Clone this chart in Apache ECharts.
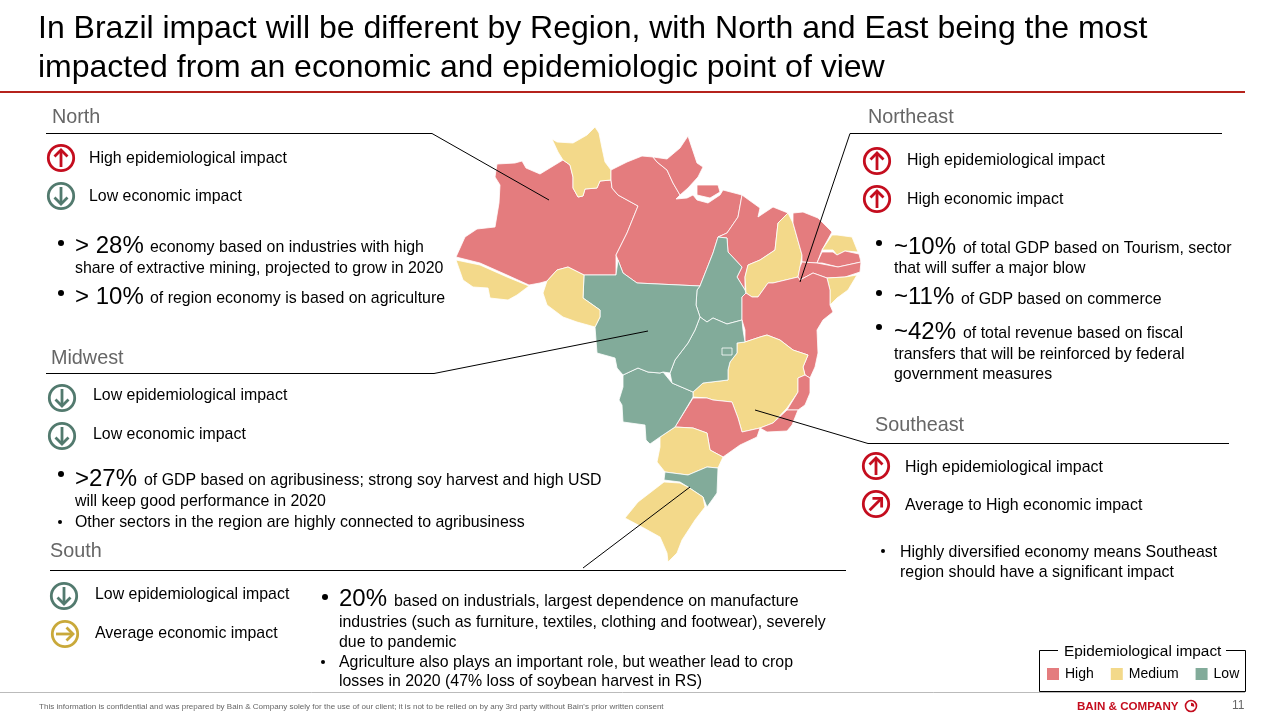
<!DOCTYPE html>
<html>
<head>
<meta charset="utf-8">
<title>Brazil regional impact</title>
<script src="https://cdn.jsdelivr.net/npm/echarts@6/dist/echarts.min.js"></script>
<style>
html,body{margin:0;padding:0;background:#fff}
#chart{width:1280px;height:720px}
</style>
</head>
<body>
<div id="chart"></div>
<script>
// impact level of each state
var impactLevels = ['High', 'Medium', 'Low'];
var stateNames = ['Amazonas','Roraima','Para','Marajo','Amapa','Maranhao','Tocantins','Piaui','Ceara','Rio Grande do Norte',
    'Paraiba','Pernambuco','Alagoas e Sergipe','Bahia','Minas Gerais','Espirito Santo','Rio de Janeiro','Sao Paulo','Parana',
    'Santa Catarina','Rio Grande do Sul','Mato Grosso do Sul','Goias','Distrito Federal','Mato Grosso','Rondonia','Acre'];
var stateImpact = ['High','Medium','High','High','High','High','Low','Medium','High','Medium',
    'High','High','Medium','High','Medium','High','High','High','Medium',
    'Low','Medium','Low','Low','Low','Low','Medium','Medium'];
var impactColors = ['#e47c7e', '#f3d98a', '#82ab9a'];

// state outlines for registerMap, traced on the page
var stateOutlines = {
    'Amazonas': [497,164,515,163,522,161,526,168,540,174,563,160,570,165,573,177,573,188,578,197,583,196,585,189,597,188,600,181,611,180,612,188,618,195,638,206,627,233,616,255,616,275,584,275,568,267,557,270,547,281,540,283,529,285,507,275,480,263,456,257,465,237,477,229,495,227,499,203,500,185,495,177],
    'Roraima': [552,139,557,142,573,143,587,135,595,127,599,133,602,148,605,162,611,170,611,180,600,181,597,188,585,189,583,196,578,197,573,188,573,177,570,165,563,160,558,152],
    'Para': [611,170,627,162,642,156,653,157,657,162,667,170,673,183,680,195,676,199,687,198,693,195,697,200,708,203,720,195,723,190,742,195,738,217,727,233,718,237,713,253,700,286,637,283,623,273,618,260,616,255,627,233,638,206,618,195,612,188,611,180],
    'Marajo': [697,185,718,185,720,192,710,198,697,195],
    'Amapa': [653,157,667,159,680,148,688,136,697,163,703,167,698,177,688,188,680,195,673,183,667,170,657,162],
    'Maranhao': [742,195,760,208,758,217,773,207,788,213,778,223,775,250,760,260,748,265,745,277,745,290,737,277,742,267,728,252,727,238,718,237,727,233,738,217],
    'Tocantins': [718,237,727,238,728,252,742,267,737,277,745,290,746,293,742,297,742,320,727,324,713,318,707,322,700,317,696,305,697,290,700,286,713,253],
    'Piaui': [788,213,793,223,802,255,800,267,798,277,773,283,768,283,758,297,752,297,746,293,745,277,748,265,760,260,775,250,778,223],
    'Ceara': [793,213,803,212,818,218,832,232,822,250,817,263,802,262,802,255,793,223],
    'Rio Grande do Norte': [832,235,837,235,852,237,858,252,845,251,837,255,833,250,822,250],
    'Paraiba': [822,252,833,252,837,255,845,251,859,254,861,262,838,267,822,263,817,263],
    'Pernambuco': [817,263,838,267,861,262,860,272,845,277,827,278,813,273,800,280,798,277,800,267,802,262],
    'Alagoas e Sergipe': [827,278,845,277,857,275,848,290,837,298,830,305,830,290],
    'Bahia': [800,280,813,273,827,278,830,290,830,305,833,312,823,320,817,330,818,353,815,367,810,378,805,375,803,367,808,355,793,350,780,340,767,335,760,337,745,342,745,330,742,320,742,297,746,293,752,297,758,297,768,283,773,283,798,277],
    'Minas Gerais': [745,342,760,337,767,335,780,340,793,350,808,355,803,367,805,375,798,378,798,392,787,408,773,423,760,428,742,432,738,418,732,402,713,400,707,398,693,397,693,392,703,383,728,380,728,370,730,362,737,353,737,343],
    'Espirito Santo': [805,375,810,378,810,393,805,405,798,410,787,410,798,392,798,378],
    'Rio de Janeiro': [787,410,798,410,792,425,787,431,767,432,760,428,773,423],
    'Sao Paulo': [675,427,693,398,707,398,713,400,732,402,738,418,742,432,760,428,757,437,740,445,723,457,710,450,707,433,693,428],
    'Parana': [660,437,675,427,693,428,707,433,710,450,723,457,718,468,707,467,688,475,665,472,657,462,660,447],
    'Santa Catarina': [665,472,688,475,707,467,718,468,717,493,707,507,703,497,688,487,680,482,664,480],
    'Rio Grande do Sul': [664,482,680,483,688,487,703,497,705,507,695,520,682,540,677,553,668,562,667,553,660,537,642,527,625,518,638,502],
    'Mato Grosso do Sul': [623,375,638,368,648,372,660,373,663,372,672,383,693,392,693,397,675,427,660,437,650,444,646,440,645,425,623,422,622,405,619,400,623,387],
    'Goias': [700,317,707,322,713,318,727,324,742,320,743,330,745,342,737,343,737,353,730,362,728,370,728,380,703,383,693,392,672,383,670,373,675,360,688,343,695,330],
    'Distrito Federal': [722,348,732,348,732,355,722,355],
    'Mato Grosso': [584,275,616,275,618,260,623,273,637,283,700,286,697,290,696,305,700,317,695,330,688,343,675,360,670,373,663,372,660,373,648,372,638,368,623,375,617,368,615,358,597,353,595,327,600,317,600,310,583,298],
    'Rondonia': [568,267,584,275,583,298,600,310,600,317,595,327,577,322,563,317,547,305,543,293,547,281,557,270],
    'Acre': [456,260,480,265,507,277,529,286,517,295,508,300,490,298,488,288,473,287,463,280]
};

var FONT = '"Liberation Sans", Arial, sans-serif';
var BLACK = '#000', GREY = '#666';
var RED = '#c40d1e', GREEN = '#527a6e', GOLD = '#c9a93a';

// slide text: x, y (middle), string, font size
var textRows = [
    [38,27,'In Brazil impact will be different by Region, with North and East being the most',32],
    [38,66,'impacted from an economic and epidemiologic point of view',32],
    // North
    [89,157,'High epidemiological impact',15.9],
    [89,195,'Low economic impact',15.9],
    [75,244,'> 28%',24],[150,246,'economy based on industries with high',15.9],
    [75,267,'share of extractive mining, projected to grow in 2020',15.9],
    [75,295,'> 10%',24],[150,297,'of region economy is based on agriculture',15.9],
    // Midwest
    [93,394,'Low epidemiological impact',15.9],
    [93,433,'Low economic impact',15.9],
    [75,477,'>27%',24],[144,479,'of GDP based on agribusiness; strong soy harvest and high USD',15.9],
    [75,500,'will keep good performance in 2020',15.9],
    [75,521,'Other sectors in the region are highly connected to agribusiness',15.9],
    // South
    [95,593,'Low epidemiological impact',15.9],
    [95,632,'Average economic impact',15.9],
    [339,597,'20%',24],[394,600,'based on industrials, largest dependence on manufacture',15.9],
    [339,621,'industries (such as furniture, textiles, clothing and footwear), severely',15.9],
    [339,641,'due to pandemic',15.9],
    [339,661,'Agriculture also plays an important role, but weather lead to crop',15.9],
    [339,680,'losses in 2020 (47% loss of soybean harvest in RS)',15.9],
    // Northeast
    [907,159,'High epidemiological impact',15.9],
    [907,198,'High economic impact',15.9],
    [894,245,'~10%',24],[963,247,'of total GDP based on Tourism, sector',15.9],
    [894,267,'that will suffer a major blow',15.9],
    [894,295,'~11%',24],[961,298,'of GDP based on commerce',15.9],
    [894,330,'~42%',24],[963,332,'of total revenue based on fiscal',15.9],
    [894,353,'transfers that will be reinforced by federal',15.9],
    [894,373,'government measures',15.9],
    // Southeast
    [905,466,'High epidemiological impact',15.9],
    [905,504,'Average to High economic impact',15.9],
    [900,551,'Highly diversified economy means Southeast',15.9],
    [900,571,'region should have a significant impact',15.9],
    // legend title
    [1064,650,'Epidemiological impact',15.4]
];
var headings = [[52,116,'North'],[51,357,'Midwest'],[50,550,'South'],[868,116,'Northeast'],[875,424,'Southeast']];
var bullets = [[61,243,3],[61,293,3],[61,474,3],[60,522,2],[325,597,3],[323,662,2],[879,243,3],[879,293,3],[879,327,3],[883,551,2]];
// x, y, colour, rotation of the up arrow
var icons = [
    [61,158,RED,0],[61,196,GREEN,Math.PI],
    [62,398,GREEN,Math.PI],[62,436,GREEN,Math.PI],
    [64,596,GREEN,Math.PI],[65,634,GOLD,-Math.PI/2],
    [877,161,RED,0],[877,199,RED,0],
    [876,466,RED,0],[876,504,RED,-Math.PI/4]
];
// header rules with leader lines into the map
var leaders = [
    [[46,133.5],[432,133.5],[549,200]],
    [[46,373.5],[434,373.5],[648,331]],
    [[50,570.5],[846,570.5]],
    [[583,568],[690,487]],
    [[1222,133.5],[850,133.5],[800,282]],
    [[1229,443.5],[868,443.5],[755,410]]
];

function textEl(x, y, str, size, color, weight) {
    // +2: middle sits a little high with this font
    return {
        type: 'text', x: x, y: y + 2, z: 10, silent: true,
        style: {
            text: str, fill: color || BLACK, align: 'left', verticalAlign: 'middle',
            font: (weight || 'normal') + ' ' + size + 'px ' + FONT
        }
    };
}
function lineEl(points, color, width) {
    return {
        type: 'polyline', z: 10, silent: true,
        shape: { points: points },
        style: { stroke: color, lineWidth: width, fill: null }
    };
}
function iconEl(x, y, color, rot) {
    return {
        type: 'group', x: x, y: y, rotation: rot, silent: true,
        children: [
            { type: 'circle', z: 10, shape: { r: 12.7 }, style: { stroke: color, lineWidth: 2.8, fill: '#fff' } },
            lineEl([[0, 9], [0, -8]], color, 2.8),
            lineEl([[-6.5, -1.5], [0, -8], [6.5, -1.5]], color, 2.8)
        ]
    };
}

var graphics = [];
textRows.forEach(function (r) { graphics.push(textEl(r[0], r[1], r[2], r[3])); });
headings.forEach(function (h) { graphics.push(textEl(h[0], h[1], h[2], 19.8, GREY)); });
bullets.forEach(function (b) {
    graphics.push({ type: 'circle', z: 10, silent: true, shape: { cx: b[0], cy: b[1], r: b[2] }, style: { fill: BLACK } });
});
icons.forEach(function (i) { graphics.push(iconEl(i[0], i[1], i[2], i[3])); });
leaders.forEach(function (l) { graphics.push(lineEl(l, '#000', 1)); });

// title rule, footer, legend frame
graphics.push(lineEl([[0, 92], [1245, 92]], '#b5231c', 2));
graphics.push(lineEl([[0, 692.5], [1245, 692.5]], '#bbb', 1));
graphics.push(lineEl([[1058, 650.5], [1039.5, 650.5], [1039.5, 691.5], [1245.5, 691.5], [1245.5, 650.5], [1226, 650.5]], '#000', 1));
graphics.push(textEl(39, 705, "This information is confidential and was prepared by Bain & Company solely for the use of our client; it is not to be relied on by any 3rd party without Bain's prior written consent", 8.05, GREY));
graphics.push(textEl(1077, 705, 'BAIN & COMPANY', 11.6, RED, 'bold'));
graphics.push({ type: 'circle', z: 10, silent: true, shape: { cx: 1191, cy: 706, r: 5.5 }, style: { stroke: RED, lineWidth: 1.6, fill: '#fff' } });
graphics.push({ type: 'sector', z: 10, silent: true, shape: { cx: 1191, cy: 706, r: 3.2, startAngle: -Math.PI / 2, endAngle: 0.2 }, style: { fill: RED } });
graphics.push(textEl(1232, 704, '11', 12, GREY));

// y is flipped because registerMap treats it as latitude
var features = stateNames.map(function (name) {
    var flat = stateOutlines[name], ring = [];
    for (var i = 0; i < flat.length; i += 2) {
        ring.push([flat[i], -flat[i + 1]]);
    }
    ring.push(ring[0]);
    return { type: 'Feature', properties: { name: name }, geometry: { type: 'Polygon', coordinates: [ring] } };
});
echarts.registerMap('brazil', { type: 'FeatureCollection', features: features });

var chart = echarts.init(document.getElementById('chart'));
chart.setOption({
    animation: false,
    backgroundColor: '#fff',
    visualMap: {
        type: 'piecewise', orient: 'horizontal', left: 1032, top: 652,
        itemWidth: 12, itemHeight: 12, itemGap: 17, textGap: 6, hoverLink: false, itemSymbol: 'rect',
        textStyle: { fontFamily: FONT, fontSize: 14, color: BLACK },
        pieces: impactLevels.map(function (level, i) {
            return { value: i, label: level, color: impactColors[i] };
        })
    },
    series: [{
        type: 'map', map: 'brazil', roam: false, silent: true,
        aspectScale: 1, layoutCenter: [658.5, 344.5], layoutSize: 435,
        label: { show: false },
        itemStyle: { borderColor: '#fff', borderWidth: 0.8 },
        data: stateNames.map(function (name, i) {
            return { name: name, value: impactLevels.indexOf(stateImpact[i]) };
        })
    }],
    graphic: { elements: graphics }
});
</script>
</body>
</html>
